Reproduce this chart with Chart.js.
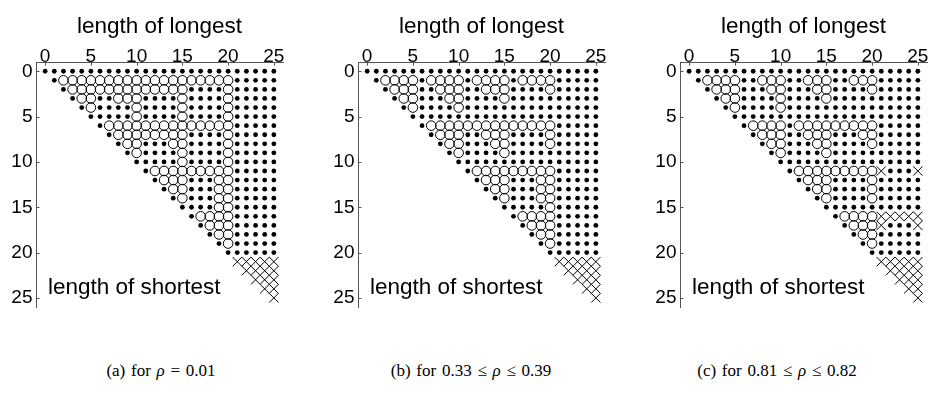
<!DOCTYPE html>
<html>
<head>
<meta charset="utf-8">
<script src="https://cdn.jsdelivr.net/npm/chart.js@4.4.0/dist/chart.umd.min.js"></script>
<style>
  html, body { margin: 0; padding: 0; background: #fff; width: 930px; height: 409px; overflow: hidden; }
  canvas { position: absolute; top: 0; }
  .cap { position: absolute; top: 361px; font-family: "Liberation Serif", serif; font-size: 17px;
         word-spacing: 1.5px; white-space: nowrap; transform: translateX(-50%); color: #000; }
</style>
</head>
<body>
<canvas id="panelA" width="300" height="320" style="left:0px"></canvas>
<canvas id="panelB" width="300" height="320" style="left:322px"></canvas>
<canvas id="panelC" width="300" height="320" style="left:644px"></canvas>
<div class="cap" id="capA" style="left:161px"></div>
<div class="cap" id="capB" style="left:471px"></div>
<div class="cap" id="capC" style="left:777px"></div>
<script>
const tickValues = [0, 5, 10, 15, 20, 25];
const xTitle = 'length of longest';
const yTitle = 'length of shortest';
const captions = ['(a) for ρ = 0.01', '(b) for 0.33 ≤ ρ ≤ 0.39', '(c) for 0.81 ≤ ρ ≤ 0.82'];

// one string per "shortest" row (0..25), one char per "longest" column (0..25)
// f = filled dot, o = open circle, x = cross, . = empty; spaces only group columns by 5
const cellsA = [
  'fffff fffff fffff fffff fffff f',
  '.fooo ooooo ooooo ooooo offff f',
  '..foo ooooo ooooo offff offff f',
  '...fo offoo offff offff offff f',
  '....f offff offff offff offff f',
  '..... fffff offff offff offff f',
  '..... .fooo ooooo ooooo offff f',
  '..... ..foo ooooo offff offff f',
  '..... ...fo offfo offff offff f',
  '..... ....f offff offff offff f',
  '..... ..... fffff offff offff f',
  '..... ..... .fooo ooooo offff f',
  '..... ..... ..foo offfo offff f',
  '..... ..... ...fo offfo offff f',
  '..... ..... ....f offfo offff f',
  '..... ..... ..... ffffo offff f',
  '..... ..... ..... .fooo offff f',
  '..... ..... ..... ..foo offff f',
  '..... ..... ..... ...fo offff f',
  '..... ..... ..... ....f offff f',
  '..... ..... ..... ..... fffff f',
  '..... ..... ..... ..... .xxxx x',
  '..... ..... ..... ..... ..xxx x',
  '..... ..... ..... ..... ...xx x',
  '..... ..... ..... ..... ....x x',
  '..... ..... ..... ..... ..... x'
];
const cellsB = [
  'fffff fffff fffff fffff fffff f',
  '.fooo ofooo ofooo ofooo offff f',
  '..foo offoo offoo offff offff f',
  '...fo offfo offff offff fffff f',
  '....f offff offff fffff fffff f',
  '..... fffff fffff fffff fffff f',
  '..... .fooo ooooo ooooo offff f',
  '..... ..foo offoo offff offff f',
  '..... ...fo offfo offff offff f',
  '..... ....f offff offff fffff f',
  '..... ..... fffff fffff fffff f',
  '..... ..... .fooo ooooo offff f',
  '..... ..... ..foo offfo offff f',
  '..... ..... ...fo offfo offff f',
  '..... ..... ....f offfo offff f',
  '..... ..... ..... fffff offff f',
  '..... ..... ..... .fooo offff f',
  '..... ..... ..... ..foo offff f',
  '..... ..... ..... ...fo offff f',
  '..... ..... ..... ....f offff f',
  '..... ..... ..... ..... fffff f',
  '..... ..... ..... ..... .xxxx x',
  '..... ..... ..... ..... ..xxx x',
  '..... ..... ..... ..... ...xx x',
  '..... ..... ..... ..... ....x x',
  '..... ..... ..... ..... ..... x'
];
const cellsC = [
  'fffff fffff fffff fffff fffff f',
  '.fooo offoo offoo offoo offff f',
  '..foo offfo offfo offff offff f',
  '...fo offff offff offff fffff f',
  '....f offff offff fffff fffff f',
  '..... fffff fffff fffff fffff f',
  '..... .fooo ofooo ooooo offff f',
  '..... ..foo offoo offfo offff f',
  '..... ...fo offfo offff offff f',
  '..... ....f offff offff fffff f',
  '..... ..... fffff fffff fffff f',
  '..... ..... .fooo ooooo oxfff x',
  '..... ..... ..foo offff offff f',
  '..... ..... ...fo offff offff f',
  '..... ..... ....f offff offff f',
  '..... ..... ..... fffff fffff f',
  '..... ..... ..... .fooo oxxxx x',
  '..... ..... ..... ..foo oxfff x',
  '..... ..... ..... ...fo offff f',
  '..... ..... ..... ....f offff f',
  '..... ..... ..... ..... fffff f',
  '..... ..... ..... ..... .xxxx x',
  '..... ..... ..... ..... ..xxx x',
  '..... ..... ..... ..... ...xx x',
  '..... ..... ..... ..... ....x x',
  '..... ..... ..... ..... ..... x'
];

const sans = '"Liberation Sans", Arial, sans-serif';

// inward tick marks and the in-plot "length of shortest" label
const extras = {
  id: 'extras',
  afterDraw(chart) {
    const {ctx, chartArea: a, scales: {x, y}} = chart;
    ctx.save();
    ctx.strokeStyle = '#555';
    ctx.lineWidth = 1;
    ctx.beginPath();
    tickValues.forEach(v => {
      const px = Math.round(x.getPixelForValue(v)) + 0.5;
      ctx.moveTo(px, a.top);
      ctx.lineTo(px, a.top + 3.5);
      const py = Math.round(y.getPixelForValue(v)) + 0.5;
      ctx.moveTo(a.left, py);
      ctx.lineTo(a.left + 3.5, py);
    });
    ctx.stroke();
    ctx.fillStyle = '#000';
    ctx.font = '22.5px ' + sans;
    ctx.textAlign = 'left';
    ctx.textBaseline = 'alphabetic';
    ctx.fillText(yTitle, a.left + 12, a.bottom - 13.5);
    ctx.restore();
  }
};

function makeChart(id, rows) {
  const filled = [], open = [], cross = [];
  rows.forEach((row, shortest) => {
    [...row.replace(/ /g, '')].forEach((ch, longest) => {
      const p = {x: longest, y: shortest};
      if (ch === 'f') filled.push(p);
      else if (ch === 'o') open.push(p);
      else if (ch === 'x') cross.push(p);
    });
  });

  const axisBorder = {display: true, color: '#555', width: 1};
  const setTicks = s => { s.ticks = tickValues.map(v => ({value: v})); };

  return new Chart(document.getElementById(id), {
    type: 'scatter',
    data: {
      datasets: [
        {data: cross, pointStyle: 'crossRot', pointRadius: 6.5, borderColor: '#000', borderWidth: 1, backgroundColor: '#000'},
        {data: filled, pointStyle: 'circle', pointRadius: 2.4, backgroundColor: '#000', borderWidth: 0},
        {data: open, pointStyle: 'circle', pointRadius: 4.8, backgroundColor: 'rgba(0,0,0,0)', borderColor: '#000', borderWidth: 1}
      ]
    },
    options: {
      responsive: false,
      animation: false,
      devicePixelRatio: 1,
      events: [],
      layout: {padding: {top: 0, left: 0, right: 17, bottom: 10.5}},
      plugins: {legend: {display: false}, tooltip: {enabled: false}},
      scales: {
        x: {
          type: 'linear', position: 'top', min: -1, max: 26,
          afterBuildTicks: setTicks,
          afterFit: s => { s.height = 62.2; },
          grid: {display: false, drawTicks: false},
          border: axisBorder,
          ticks: {color: '#000', padding: -4, maxRotation: 0, autoSkip: false,
                  font: {family: sans, size: 19, lineHeight: 1}},
          title: {display: true, text: xTitle, color: '#000', padding: {top: 13.5, bottom: 0},
                  font: {family: sans, size: 22.5}}
        },
        y: {
          type: 'linear', reverse: true, min: -1, max: 26,
          afterBuildTicks: setTicks,
          afterFit: s => { s.width = 36; },
          grid: {display: false, drawTicks: false},
          border: axisBorder,
          ticks: {color: '#000', padding: 3.5, autoSkip: false,
                  font: {family: sans, size: 19, lineHeight: 1}}
        }
      }
    },
    plugins: [extras]
  });
}

makeChart('panelA', cellsA);
makeChart('panelB', cellsB);
makeChart('panelC', cellsC);

['capA', 'capB', 'capC'].forEach((id, i) => {
  document.getElementById(id).innerHTML = captions[i].split('ρ').join('<i>ρ</i>');
});
</script>
</body>
</html>
